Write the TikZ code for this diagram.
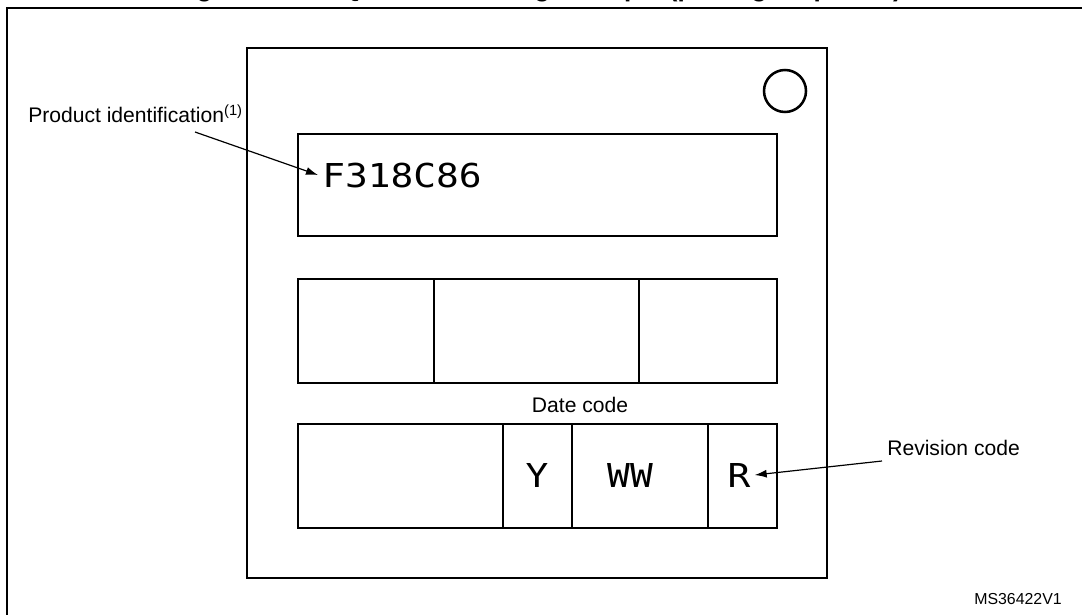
\documentclass[tikz,border=0pt]{standalone}
\usepackage{fontspec}
\setmainfont{Liberation Sans}
\newfontfamily\segfont[FakeStretch=1.15]{DejaVu Sans Mono}
\usetikzlibrary{arrows.meta}
\tikzset{
	lbl/.style={font=\fontsize{15}{18}\selectfont, inner sep=0pt},
	seg/.style={font=\segfont\fontsize{23.4}{28}\selectfont, inner sep=0.1cm},
	cell/.style={line width=1.8pt},
	ptr/.style={-{Latex[length=0.3cm,width=0.2cm]}, line width=0.85pt},
}
\begin{document}
\begin{tikzpicture}[x=0.025cm,y=0.025cm]
				\clip (0,0) rectangle (1082,614);
				\node[anchor=base east,inner sep=0pt,font=\bfseries\fontsize{18.5}{22}\selectfont] (title) at (902,617.5) {Figure 35. UFQFPN48 marking example (package top view)};
				\draw[line width=1.4pt] (1090,606) to (7,606) to (7,-10);
				\draw[line width=2.1pt] (247,36) rectangle (827,566);
				\draw[line width=1.8pt] (785,523) circle (21);
				\draw[cell] (298,378) rectangle (777,480);
				\draw[cell] (298,231) rectangle (777,335);
				\draw[cell] (434,231) to (434,335);
				\draw[cell] (639,231) to (639,335);
				\draw[cell] (298,86) rectangle (777,190);
				\draw[cell] (503,86) to (503,190);
				\draw[cell] (572,86) to (572,190);
				\draw[cell] (708,86) to (708,190);
				\node[seg,anchor=base west] (mark) at (318,427) {F318C86};
				\node[seg,anchor=base] (year) at (537,127) {Y};
				\node[seg,anchor=base] (week) at (630,127) {WW};
				\node[seg,anchor=base] (rev) at (739,127) {R};
				\node[lbl,anchor=base west] (pid) at (28,491) {Product identification\textsuperscript{(1)}};
				\node[lbl,anchor=base] (date) at (580,202) {Date code};
				\node[lbl,anchor=base west] (revlbl) at (887,159) {Revision code};
				\node[lbl,anchor=base east,font=\fontsize{11.3}{13}\selectfont] (ms) at (1062,10) {MS36422V1};
				\coordinate (pidfoot) at (195,482);
				\coordinate (revfoot) at (882,153);
				\draw[ptr] (pidfoot) to (mark.west);
				\draw[ptr] (revfoot) to (rev.east);
\end{tikzpicture}
\end{document}
